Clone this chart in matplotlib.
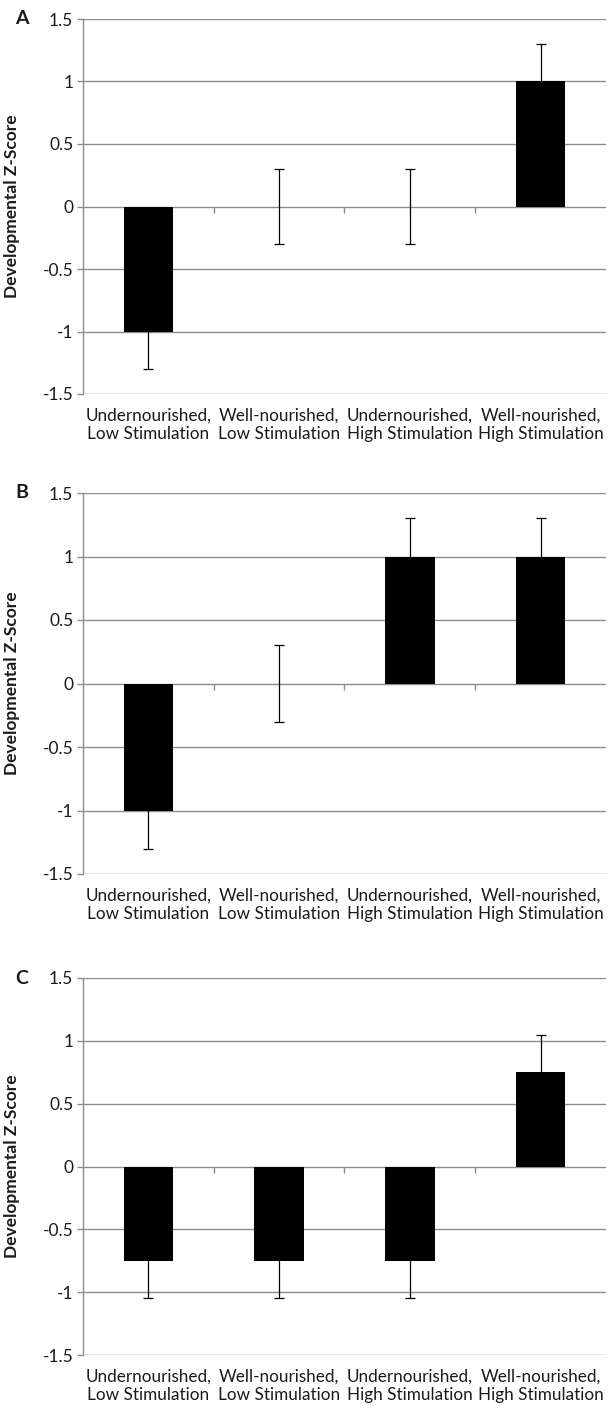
import numpy as np
import matplotlib.pyplot as plt

plt.rcParams['font.family'] = ['Lato', 'DejaVu Sans']

categories = ["Undernourished,\nLow Stimulation", "Well-nourished,\nLow Stimulation",
              "Undernourished,\nHigh Stimulation", "Well-nourished,\nHigh Stimulation"]
panel_letters = ["A", "B", "C"]
scores_a = [-1.0, 0.0, 0.0, 1.0]
scores_b = [-1.0, 0.0, 1.0, 1.0]
scores_c = [-0.75, -0.75, -0.75, 0.75]
errors_a = [0.3, 0.3, 0.3, 0.3]
errors_b = [0.3, 0.3, 0.3, 0.3]
errors_c = [0.3, 0.3, 0.3, 0.3]
yticks = [-1.5, -1, -0.5, 0, 0.5, 1, 1.5]
ytick_labels = ["-1.5", "-1", "-0.5", "0", "0.5", "1", "1.5"]

GRAY = "#8c8c8c"
TEXT = "#1a1a1a"

fig = plt.figure(figsize=(6.09, 14.10), dpi=100)

# panel boxes in pixels (top, bottom) of the plotting area
W, H = 609, 1410
left_px, right_px = 83, 606
panels = [(19, 394), (493, 874), (978, 1355)]
all_scores = [scores_a, scores_b, scores_c]
all_errors = [errors_a, errors_b, errors_c]

x = np.arange(len(categories))
bounds = x[:-1] + 0.5

for letter, (top, bot), vals, errs in zip(panel_letters, panels, all_scores, all_errors):
    ax = fig.add_axes([left_px / W, 1 - bot / H, (right_px - left_px) / W, (bot - top) / H])

    for yv in yticks:
        ax.axhline(yv, color=GRAY, lw=1.0, zorder=0)

    ax.bar(x, vals, width=0.38, color="black", zorder=2)
    ax.errorbar(x, vals, yerr=errs, fmt="none", ecolor="black", elinewidth=0.9,
                capsize=3.6, capthick=0.9, zorder=3)

    # category tick marks on the zero axis
    ax.vlines(bounds, -0.05, 0, color=GRAY, lw=1.0, zorder=1)

    ax.set_xlim(-0.5, len(categories) - 0.5)
    ax.set_ylim(-1.5, 1.5)
    ax.set_yticks(yticks)
    ax.set_yticklabels(ytick_labels)
    ax.set_xticks(x)
    ax.set_xticklabels(categories, fontsize=12.3, color=TEXT, linespacing=1.2)
    ax.tick_params(axis="x", length=0, pad=10)
    ax.tick_params(axis="y", length=4, width=1, color=GRAY, pad=3, labelsize=12.5, labelcolor=TEXT)

    for s in ["top", "right", "bottom"]:
        ax.spines[s].set_visible(False)
    ax.spines["left"].set_color(GRAY)
    ax.spines["left"].set_linewidth(1.0)

    ax.set_ylabel("Developmental Z-Score", fontsize=12.5, fontweight="bold", color=TEXT)
    ax.yaxis.set_label_coords(-0.12, 0.5)

    fig.text(22 / W, 1 - top / H, letter, fontsize=14, fontweight="bold",
             color=TEXT, ha="center", va="center")

fig.savefig("out.png", dpi=100)
